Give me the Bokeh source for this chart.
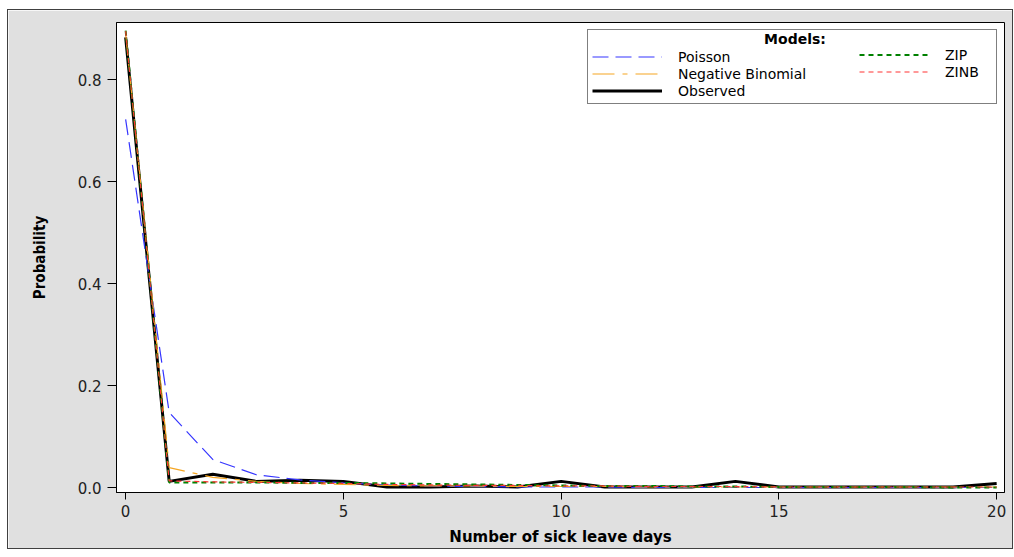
from bokeh.plotting import figure
from bokeh.models import Range1d, Legend, LegendItem, Label, FixedTicker
from bokeh.embed import file_html
from bokeh.resources import INLINE

# ---- data ----
days = list(range(0, 21))
observed = [0.883, 0.012, 0.026, 0.012, 0.014, 0.012, 0.001, 0.001, 0.003, 0.001, 0.012,
            0.001, 0.001, 0.001, 0.012, 0.001, 0.001, 0.001, 0.001, 0.001, 0.008]
poisson = [0.722, 0.147, 0.055, 0.025, 0.015, 0.009, 0.005, 0.003, 0.002, 0.001, 0.001,
           0.001, 0.0, 0.0, 0.0, 0.0, 0.0, 0.0, 0.0, 0.0, 0.0]
negbin = [0.890, 0.039, 0.020, 0.012, 0.008, 0.006, 0.004, 0.003, 0.003, 0.002, 0.002,
          0.002, 0.001, 0.001, 0.001, 0.001, 0.001, 0.001, 0.001, 0.001, 0.001]
zip_ = [0.896, 0.010, 0.010, 0.010, 0.009, 0.009, 0.008, 0.007, 0.006, 0.005, 0.004,
        0.003, 0.003, 0.002, 0.002, 0.001, 0.001, 0.001, 0.001, 0.0, 0.0]
zinb = [0.895, 0.013, 0.011, 0.010, 0.009, 0.008, 0.006, 0.005, 0.004, 0.004, 0.003,
        0.003, 0.002, 0.002, 0.002, 0.001, 0.001, 0.001, 0.001, 0.001, 0.001]
x_ticks = [0, 5, 10, 15, 20]
y_ticks = [0.0, 0.2, 0.4, 0.6, 0.8]

p = figure(width=1004, height=538, output_backend="svg", toolbar_location=None,
           x_range=Range1d(-0.21, 20.18), y_range=Range1d(-0.0098, 0.912),
           min_border_left=108, min_border_right=8, min_border_top=12, min_border_bottom=55)
p.margin = (10, 0, 0, 8)
p.styles = {"outline": "1px solid #404040"}
p.background_fill_color = "white"
p.border_fill_color = "#e0e0e0"
p.outline_line_color = "black"
p.outline_line_width = 1
p.xgrid.visible = False
p.ygrid.visible = False

r_obs = p.line(days, observed, line_color="black", line_width=3)
r_poi = p.line(days, poisson, line_color="#3535ff", line_width=1.2, line_dash="16 7")
r_nb = p.line(days, negbin, line_color="#f5a623", line_width=1.2, line_dash="22 8 5 8")
r_zip = p.line(days, zip_, line_color="#008000", line_width=2, line_dash="5 4")
r_zinb = p.line(days, zinb, line_color="#ff3333", line_width=1.2, line_dash="5 4")

for ax in (p.xaxis[0], p.yaxis[0]):
    ax.axis_line_color = "black"
    ax.major_tick_line_color = "black"
    ax.minor_tick_line_color = None
    ax.major_tick_in = 0
    ax.major_label_text_font = "DejaVu Sans"
    ax.major_label_text_font_size = "15px"
    ax.major_label_text_color = "#222222"
    ax.axis_label_text_color = "black"

p.xaxis[0].ticker = FixedTicker(ticks=x_ticks)
p.yaxis[0].ticker = FixedTicker(ticks=y_ticks)
p.yaxis[0].major_label_overrides = {t: f"{t:.1f}" for t in y_ticks}
p.xaxis[0].major_tick_out = 7
p.yaxis[0].major_tick_out = 9
p.xaxis[0].major_label_standoff = 5
p.yaxis[0].major_label_standoff = 6

p.xaxis[0].axis_label = "Number of sick leave days"
p.xaxis[0].axis_label_text_font = "DejaVu Sans"
p.xaxis[0].axis_label_text_font_style = "bold"
p.xaxis[0].axis_label_text_font_size = "15px"
p.xaxis[0].axis_label_standoff = 8

p.yaxis[0].axis_label = "Probability"
p.yaxis[0].axis_label_text_font = "DejaVu Sans Condensed"
p.yaxis[0].axis_label_text_font_style = "bold"
p.yaxis[0].axis_label_text_font_size = "15px"
p.yaxis[0].axis_label_standoff = 26

common = dict(label_text_font="DejaVu Sans", label_text_font_size="14px",
              label_text_color="black", glyph_width=70, glyph_height=17,
              label_height=17, label_standoff=16, spacing=0)

legA = Legend(items=[LegendItem(label="Poisson", renderers=[r_poi]),
                     LegendItem(label="Negative Binomial", renderers=[r_nb]),
                     LegendItem(label="Observed", renderers=[r_obs])],
              location="top_right", margin=7, padding=4,
              border_line_color="black", border_line_width=1,
              background_fill_alpha=0,
              title="Models:", title_text_alpha=0, title_text_font_size="12px",
              title_standoff=0, label_width=314, **common)
legB = Legend(items=[LegendItem(label="ZIP", renderers=[r_zip]),
                     LegendItem(label="ZINB", renderers=[r_zinb])],
              location=(743, 412), margin=0, padding=0,
              border_line_color=None, background_fill_alpha=0,
              label_width=30, **common)
p.add_layout(legA)
p.add_layout(legB)

title = Label(x=15.37, y=0.879, text="Models:",
              text_font="DejaVu Sans", text_font_style="bold", text_font_size="14px",
              text_align="center", text_baseline="middle", text_color="black")
p.add_layout(title)

open("out.html", "w").write(file_html(p, INLINE))
